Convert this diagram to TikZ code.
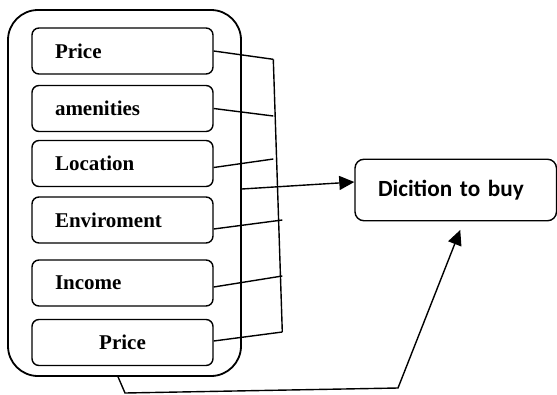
\documentclass[tikz,border=0pt]{standalone}
\usepackage{fontspec}
\setmainfont{Liberation Serif}
\newfontfamily\calibri{Carlito}
\usepackage{tikz}
\usetikzlibrary{arrows.meta}
\pgfdeclarelayer{edgelayer}
\pgfdeclarelayer{nodelayer}
\pgfsetlayers{edgelayer,nodelayer,main}
\tikzstyle{group}=[rectangle, draw=black, rounded corners=30pt, line width=1.8pt, minimum width=233pt, minimum height=366pt]
\tikzstyle{factor}=[rectangle, draw=black, rounded corners=7pt, line width=1.4pt, minimum width=181pt, minimum height=46pt, text width=135pt, inner xsep=23pt, align=left, font=\fontsize{21}{24}\selectfont\bfseries]
\tikzstyle{goal}=[rectangle, draw=black, rounded corners=9pt, line width=1.4pt, minimum width=201.5pt, minimum height=61.5pt, text width=155.5pt, inner xsep=23pt, align=left, font=\calibri\fontsize{23.2}{28}\selectfont\bfseries]
\tikzstyle{link}=[-, draw=black, line width=1.4pt]
\tikzstyle{arrow}=[-{Triangle[length=15pt,width=14pt]}, draw=black, line width=1.4pt]

\begin{document}
\begin{tikzpicture}[x=1pt, y=-1pt]
            \useasboundingbox (0, 0) rectangle (557, 394);
            \begin{pgfonlayer}{nodelayer}
                \node [style=group] (G) at (124.5, 193) {};
                \node [style=factor] (price) at (122.5, 51) {Price};
                \node [style=factor] (amen) at (122.5, 108.5) {amenities};
                \node [style=factor] (loc) at (122.5, 163.5) {Location};
                \node [style=factor] (env) at (122.5, 220) {Enviroment};
                \node [style=factor] (inc) at (122.5, 283) {Income};
                \node [style=factor, align=center] (price2) at (122.5, 342.5) {Price};

                \node [style=goal] (buy) at (455.75, 190) {Dicition to buy};

                \coordinate (k1) at (273.3, 59.3);
                \coordinate (k2) at (273.3, 116);
                \coordinate (k3) at (273.3, 159);
                \coordinate (k4) at (282.3, 220);
                \coordinate (k5) at (282.3, 276);
                \coordinate (k6) at (282.3, 332);
                \coordinate (b1) at (125, 393);
                \coordinate (b2) at (398, 388);
            \end{pgfonlayer}
            \begin{pgfonlayer}{edgelayer}
                \draw [style=link] (k1) to (k6);
                \draw [style=link] (price.east) to (k1);
                \draw [style=link] (amen.east) to (k2);
                \draw [style=link] ([yshift=-4pt]loc.east) to (k3);
                \draw [style=link] ([yshift=-9pt]env.east) to (k4);
                \draw [style=link] ([yshift=-4pt]inc.east) to (k5);
                \draw [style=link] ([yshift=1.5pt]price2.east) to (k6);

                \draw [style=arrow] ([yshift=4pt]G.east) to ([yshift=8pt]buy.west);
                \draw [style=arrow] (G.-92) -- (b1) -- (b2) -- ([shift={(4.5pt,-8.5pt)}]buy.south);
            \end{pgfonlayer}
        \end{tikzpicture}
\end{document}
